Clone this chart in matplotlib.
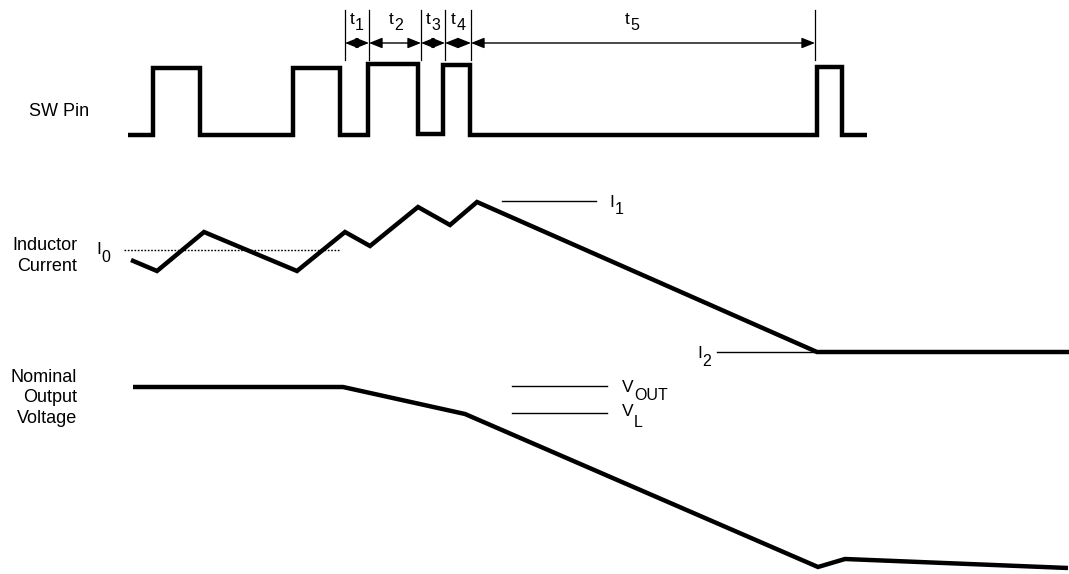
import matplotlib
matplotlib.use("Agg")
import matplotlib.pyplot as plt

plt.rcParams['font.family'] = ['Liberation Sans', 'DejaVu Sans']

# SW pin waveform (time, level) in drawing units
sw_t = [128, 153, 153, 200, 200, 293, 293, 340, 340, 368, 368, 418, 418, 443, 443, 470, 470, 817, 817, 842, 842, 867]
sw_v = [135, 135, 68, 68, 135, 135, 68, 68, 135, 135, 64, 64, 134, 134, 65, 65, 135, 135, 67, 67, 135, 135]

# Inductor current
il_t = [131, 157, 204, 297, 345, 370, 418, 450, 477, 817, 1069]
il_v = [260, 271, 232, 271, 232, 246, 207, 225, 202, 352, 352]

# Output voltage
vo_t = [133, 343, 465, 818, 845, 1068]
vo_v = [387, 387, 414, 567, 559, 568]

# Timing interval boundaries and labels
mark_t = [345, 369, 421, 445, 471, 815]
mark_sub = ['1', '2', '3', '4', '5']
mark_label_x = [350, 389, 426, 451, 625]

fig = plt.figure(figsize=(10.69, 5.74), dpi=100)
ax = fig.add_axes([0, 0, 1, 1])
ax.set_xlim(0, 1069)
ax.set_ylim(574, 0)
ax.axis('off')
renderer = fig.canvas.get_renderer()

MAIN_SIZE = 12.5
SUB_SIZE = 11.5


def label_with_sub(x, y, main, sub, drop=7, gap=0.5):
    """Draw `main` with a lowered subscript `sub`; x is left edge, y the baseline."""
    t = ax.text(x, y, main, fontsize=MAIN_SIZE, ha='left', va='baseline')
    bb = t.get_window_extent(renderer=renderer)
    w = bb.width  # pixels == data units here
    ax.text(x + w + gap, y + drop, sub, fontsize=SUB_SIZE, ha='left', va='baseline')


thick = dict(color='black', lw=3.2, solid_joinstyle='miter', solid_capstyle='butt')
ax.plot(sw_t, sw_v, **thick)
ax.plot(il_t, il_v, **thick)
ax.plot(vo_t, vo_v, **thick)

# interval markers
for x in mark_t:
    ax.plot([x, x], [10, 60], color='black', lw=0.9)
arrow_y = 43
for (x0, x1), sub, lx in zip(zip(mark_t[:-1], mark_t[1:]), mark_sub, mark_label_x):
    ax.annotate('', xy=(x1, arrow_y), xytext=(x0, arrow_y),
                arrowprops=dict(arrowstyle='<|-|>,head_length=0.8,head_width=0.32',
                                color='black', lw=1.0, shrinkA=0, shrinkB=0))
    label_with_sub(lx, 24, 't', sub, drop=6)

# reference levels
ax.plot([124, 340], [250, 250], color='black', lw=1.0, ls=(0, (1.2, 1.2)))
label_with_sub(96, 254, 'I', '0', drop=8)
ax.plot([502, 596], [201, 201], color='black', lw=1.0)
label_with_sub(609, 207, 'I', '1', drop=7)
ax.plot([717, 815], [352, 352], color='black', lw=1.0)
label_with_sub(697, 358, 'I', '2', drop=8)
ax.plot([512, 607], [386, 386], color='black', lw=1.0)
label_with_sub(622, 392, 'V', 'OUT', drop=8)
ax.plot([512, 607], [413, 413], color='black', lw=1.0)
label_with_sub(622, 416, 'V', 'L', drop=11)

# row labels
ax.text(89, 112, 'SW Pin', fontsize=13, ha='right', va='center')
ax.text(77, 256, 'Inductor\nCurrent', fontsize=13, ha='right', va='center', linespacing=1.25)
ax.text(77, 398, 'Nominal\nOutput\nVoltage', fontsize=13, ha='right', va='center', linespacing=1.25)

fig.savefig('out.png', dpi=100)
